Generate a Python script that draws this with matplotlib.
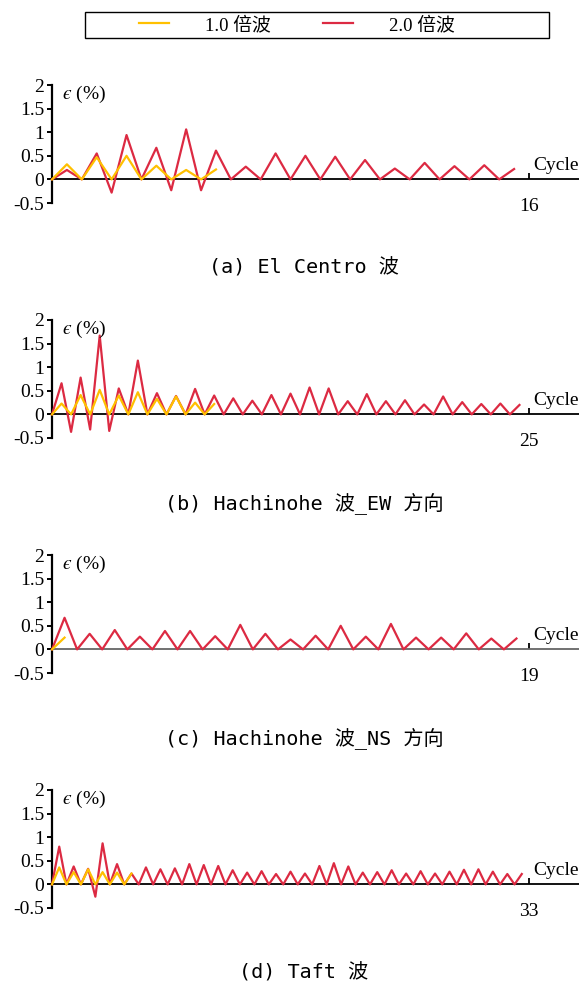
import matplotlib
matplotlib.use("Agg")
import matplotlib.pyplot as plt
from matplotlib.lines import Line2D
from matplotlib.patches import Rectangle
import numpy as np

plt.rcParams["mathtext.fontset"] = "stix"

SERIF = ["Liberation Serif", "Noto Sans CJK SC"]
CAPTION_FONT = ["DejaVu Sans Mono", "Noto Sans CJK SC"]
YELLOW = "#FFC000"
RED = "#DC2A42"

# strain peaks per half cycle (%)
red_a = [0, 0.2, 0, 0.55, -0.28, 0.94, 0, 0.67, -0.23, 1.06, -0.23, 0.61, 0, 0.27, 0, 0.55,
         0, 0.5, 0, 0.48, 0, 0.41, 0, 0.23, 0, 0.35, 0, 0.28, 0, 0.3, 0, 0.22]
yellow_a = [0, 0.32, 0, 0.47, 0, 0.5, 0, 0.29, 0, 0.2, 0, 0.21]

red_b = [0, 0.66, -0.37, 0.78, -0.32, 1.67, -0.35, 0.55, 0, 1.14, 0, 0.45, 0, 0.39, 0, 0.54,
         0, 0.4, 0, 0.34, 0, 0.29, 0, 0.41, 0, 0.44, 0, 0.57, 0, 0.55, 0, 0.28,
         0, 0.43, 0, 0.28, 0, 0.3, 0, 0.21, 0, 0.38, 0, 0.26, 0, 0.22, 0, 0.23, 0, 0.2]
yellow_b = [0, 0.23, 0, 0.41, 0, 0.52, 0, 0.4, 0, 0.47, 0, 0.33, 0, 0.38, 0, 0.25, 0, 0.22]

red_c = [0, 0.67, 0, 0.33, 0, 0.41, 0, 0.27, 0, 0.39, 0, 0.39, 0, 0.28, 0, 0.52,
         0, 0.33, 0, 0.21, 0, 0.29, 0, 0.5, 0, 0.27, 0, 0.54, 0, 0.25, 0, 0.25,
         0, 0.34, 0, 0.23, 0, 0.23]
yellow_c = [0, 0.25]

red_d = [0, 0.8, 0, 0.38, 0, 0.33, -0.26, 0.87, 0, 0.43, 0, 0.23, 0, 0.36, 0, 0.32,
         0, 0.34, 0, 0.43, 0, 0.41, 0, 0.39, 0, 0.3, 0, 0.25, 0, 0.28, 0, 0.22,
         0, 0.27, 0, 0.23, 0, 0.39, 0, 0.45, 0, 0.38, 0, 0.25, 0, 0.26, 0, 0.3,
         0, 0.23, 0, 0.28, 0, 0.23, 0, 0.27, 0, 0.31, 0, 0.32, 0, 0.27, 0, 0.22, 0, 0.22]
yellow_d = [0, 0.36, 0, 0.26, 0, 0.32, 0, 0.26, 0, 0.25, 0, 0.23]

cycle_counts = [16, 25, 19, 33]
captions = ["(a) El Centro 波", "(b) Hachinohe 波_EW 方向",
            "(c) Hachinohe 波_NS 方向", "(d) Taft 波"]
zero_colors = ["black", "black", "#666666", "black"]
legend_labels = ["1.0 倍波", "2.0 倍波"]

panels = [(red_a, yellow_a), (red_b, yellow_b), (red_c, yellow_c), (red_d, yellow_d)]

W, H = 579, 983
fig = plt.figure(figsize=(W / 100, H / 100), dpi=100)

for i, (red, yellow) in enumerate(panels):
    top = 85 + 235 * i
    bottom = top + 118
    ax = fig.add_axes([52 / W, 1 - bottom / H, (W - 52) / W, 118 / H])
    n = cycle_counts[i]
    ax.set_xlim(0, n * (W - 52) / 477)
    ax.set_ylim(-0.5, 2)

    ax.plot(np.arange(len(red)) * 0.5, red, color=RED, lw=1.6, zorder=3, clip_on=False)
    ax.plot(np.arange(len(yellow)) * 0.5, yellow, color=YELLOW, lw=1.6, zorder=4, clip_on=False)

    for s in ["top", "right"]:
        ax.spines[s].set_visible(False)
    ax.spines["left"].set_bounds(-0.5, 2)
    ax.spines["left"].set_linewidth(1.6)
    ax.spines["bottom"].set_position(("data", 0))
    ax.spines["bottom"].set_linewidth(1.3)
    ax.spines["bottom"].set_color(zero_colors[i])
    ax.spines["bottom"].set_zorder(2)

    ax.set_yticks([-0.5, 0, 0.5, 1, 1.5, 2])
    ax.set_yticklabels(["-0.5", "0", "0.5", "1", "1.5", "2"])
    ax.set_xticks([n])
    ax.set_xticklabels([str(n)])
    ax.tick_params(axis="y", direction="out", length=3.5, width=1.4, pad=2,
                   labelsize=14)
    ax.tick_params(axis="x", direction="in", length=4.5, width=1.3, pad=13.5,
                   labelsize=14, color="black")
    for lab in ax.get_xticklabels() + ax.get_yticklabels():
        lab.set_fontfamily(SERIF)

    # lunate epsilon, as in the source figure
    ax.annotate("$\u03f5$ (%)", xy=(0, 2), xytext=(7, 1), textcoords="offset points",
                ha="left", va="top", fontsize=14, family=SERIF)
    ax.annotate("Cycle", xy=(n, 0), xytext=(3, 4), textcoords="offset points",
                ha="left", va="bottom", fontsize=14, family=SERIF, annotation_clip=False)

    fig.text(304 / W, 1 - (top + 183) / H, captions[i], ha="center", va="center",
             fontsize=14.5, family=CAPTION_FONT)

# legend
handles = [Line2D([], [], color=YELLOW, lw=1.6), Line2D([], [], color=RED, lw=1.6)]
fig.legend(handles, legend_labels, loc="center", ncol=2, frameon=False,
           bbox_to_anchor=(297 / W, 1 - 25 / H), prop={"family": SERIF, "size": 13.5},
           handlelength=1.6, handletextpad=1.9, columnspacing=2.8)
fig.patches.append(Rectangle((85 / W, 1 - 38 / H), 464 / W, 26 / H, transform=fig.transFigure,
                             fill=False, edgecolor="black", lw=1.0))

fig.savefig("out.png", dpi=100)
